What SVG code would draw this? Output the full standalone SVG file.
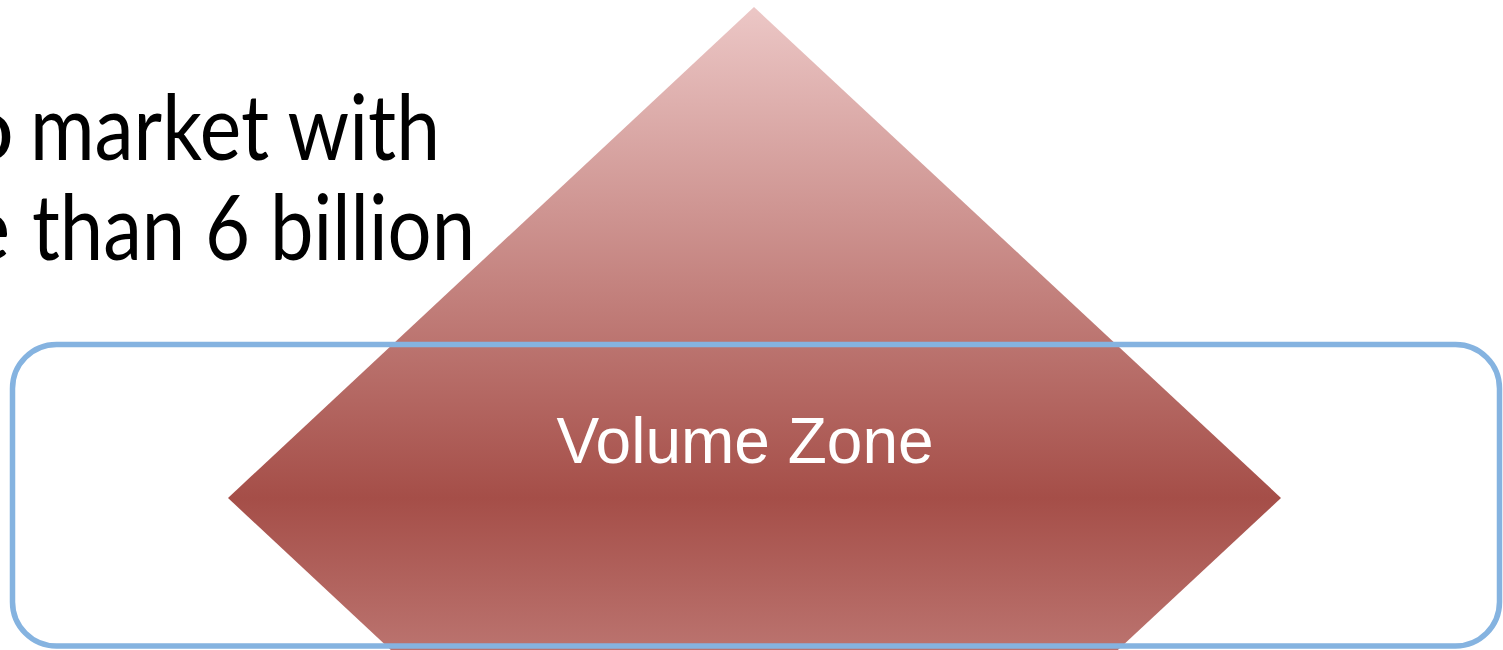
<svg xmlns="http://www.w3.org/2000/svg" width="1503" height="650" viewBox="0 0 1503 650">
  <defs>
    <linearGradient id="redGrad" gradientUnits="userSpaceOnUse" x1="0" y1="7" x2="0" y2="989">
      <stop offset="0" stop-color="#ecc7c6"/>
      <stop offset="0.5" stop-color="#a54e48"/>
      <stop offset="1" stop-color="#ecc7c6"/>
    </linearGradient>
    <style>
      .big { font-family: Lato, "Open Sans", "Liberation Sans", sans-serif; font-size: 92px; fill: #000000; }
      .label { font-family: "Liberation Sans", Arial, sans-serif; font-size: 64px; fill: #ffffff; text-anchor: middle; }
      .zone { fill: none; stroke: #85b3e0; stroke-width: 5.5; }
    </style>
  </defs>
  <rect width="1503" height="650" fill="#ffffff"/>
  <g id="caption">
    <text class="big" y="160"><tspan x="-38">o</tspan><tspan x="30" textLength="410" lengthAdjust="spacingAndGlyphs">market with</tspan></text>
    <text class="big" y="260"><tspan x="-38">e</tspan><tspan x="32" textLength="443" lengthAdjust="spacingAndGlyphs">than 6 billion</tspan></text>
  </g>
  <g id="pyramid">
    <polygon points="754,7 1281,498 754,989 228,498" fill="url(#redGrad)"/>
  </g>
  <g id="volume-zone">
    <rect class="zone" x="12.5" y="344.5" width="1487" height="301.5" rx="44" ry="44"/>
    <text class="label" x="745" y="463">Volume Zone</text>
  </g>
  <g id="connectors"/>
</svg>
